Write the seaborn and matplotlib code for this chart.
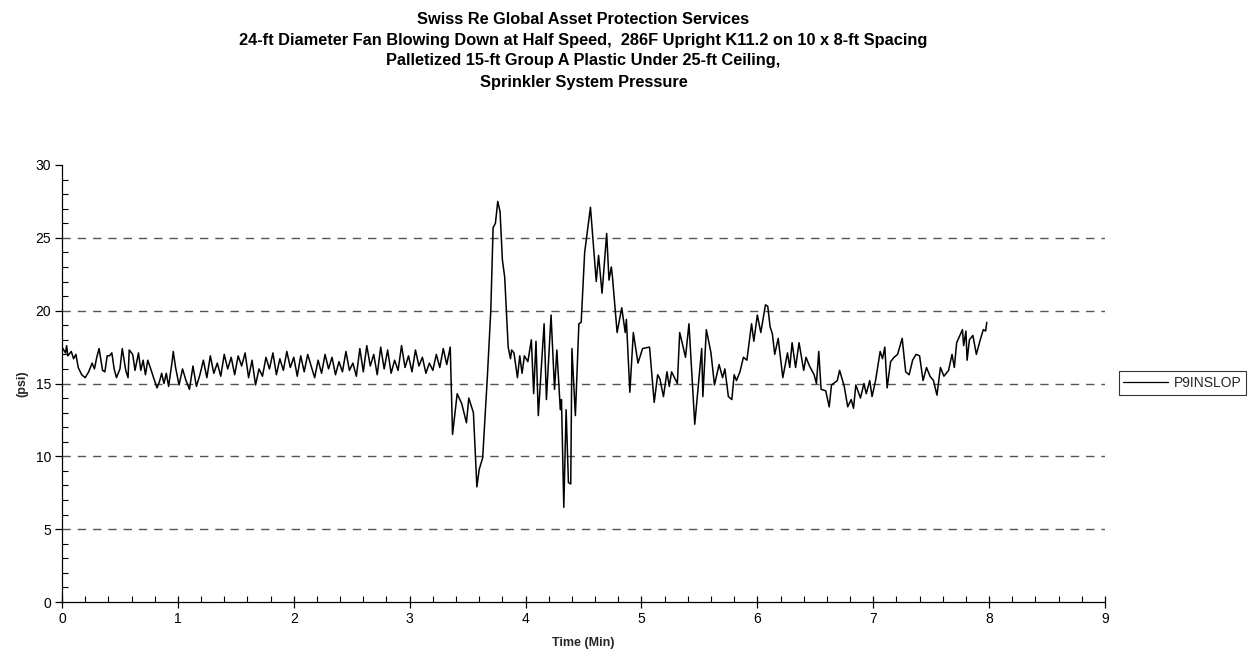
import numpy as np
import pandas as pd
import matplotlib
matplotlib.use("Agg")
import matplotlib.pyplot as plt
import seaborn as sns
from matplotlib.ticker import MultipleLocator

# Sprinkler system pressure record (time in minutes, pressure in psi)
time_min = [
    0.00, 0.03, 0.04, 0.05, 0.08, 0.10, 0.12, 0.14, 0.17, 0.20, 0.23, 0.26, 0.28, 0.30, 0.32,
    0.35, 0.37, 0.39, 0.41, 0.43, 0.45, 0.47, 0.50, 0.52, 0.55, 0.57, 0.58, 0.61, 0.63, 0.66,
    0.68, 0.70, 0.72, 0.74, 0.77, 0.79, 0.82, 0.84, 0.86, 0.88, 0.90, 0.92, 0.95, 0.96, 0.98,
    1.01, 1.04, 1.07, 1.10, 1.13, 1.16, 1.19, 1.22, 1.25, 1.28, 1.31, 1.34, 1.37, 1.40, 1.43,
    1.46, 1.49, 1.52, 1.55, 1.58, 1.61, 1.64, 1.67, 1.70, 1.73, 1.76, 1.79, 1.82, 1.85, 1.88,
    1.91, 1.94, 1.97, 2.00, 2.03, 2.06, 2.09, 2.12, 2.15, 2.18, 2.21, 2.24, 2.27, 2.30, 2.33,
    2.36, 2.39, 2.42, 2.45, 2.48, 2.51, 2.54, 2.57, 2.60, 2.63, 2.66, 2.69, 2.72, 2.75, 2.78,
    2.81, 2.84, 2.87, 2.90, 2.93, 2.96, 2.99, 3.02, 3.05, 3.08, 3.11, 3.14, 3.17, 3.20, 3.23,
    3.26, 3.29, 3.32, 3.35,
    3.37, 3.41, 3.45, 3.49, 3.51, 3.55, 3.58, 3.60, 3.63, 3.67, 3.70, 3.72, 3.74, 3.76, 3.78,
    3.80, 3.82, 3.85, 3.87, 3.88, 3.90, 3.93, 3.95, 3.97, 3.99, 4.02, 4.05, 4.07, 4.09, 4.11,
    4.16, 4.18, 4.22, 4.25, 4.27, 4.30, 4.31, 4.33, 4.35, 4.37, 4.39, 4.40, 4.43, 4.46, 4.48,
    4.51, 4.56, 4.61, 4.63, 4.66, 4.70, 4.72, 4.74, 4.75, 4.79, 4.83, 4.86, 4.87, 4.90, 4.93,
    4.97, 5.01, 5.07, 5.11, 5.14, 5.16, 5.19, 5.22, 5.24, 5.26, 5.31, 5.33, 5.36, 5.38, 5.41,
    5.46, 5.52, 5.53, 5.56, 5.60, 5.63, 5.67, 5.70, 5.72, 5.75, 5.78, 5.80, 5.82, 5.85, 5.88,
    5.91, 5.95, 5.97, 6.00, 6.03, 6.07, 6.09, 6.11, 6.13, 6.15, 6.18, 6.22, 6.26, 6.28, 6.30,
    6.33, 6.36, 6.40, 6.42, 6.45, 6.49, 6.51, 6.53, 6.55, 6.59, 6.62, 6.64, 6.69, 6.71, 6.75,
    6.78, 6.81, 6.83, 6.85, 6.89, 6.92, 6.94, 6.97, 6.99, 7.02, 7.06, 7.08, 7.10, 7.12, 7.15,
    7.18, 7.21, 7.25, 7.28, 7.31, 7.34, 7.37, 7.40, 7.43, 7.46, 7.49, 7.52, 7.55, 7.58, 7.61,
    7.65, 7.68, 7.70, 7.72, 7.77, 7.78, 7.80, 7.81, 7.83, 7.86, 7.89, 7.92, 7.95, 7.97, 7.98,
]
pressure_psi = [
    17.5, 17.1, 17.6, 16.9, 17.2, 16.7, 17.0, 16.1, 15.6, 15.4, 15.8, 16.4, 16.0, 16.8, 17.4,
    15.9, 15.8, 16.9, 16.9, 17.1, 16.0, 15.4, 16.0, 17.4, 15.9, 15.4, 17.3, 17.0, 15.9, 17.1,
    15.9, 16.6, 15.6, 16.6, 15.9, 15.4, 14.7, 15.1, 15.7, 15.0, 15.7, 14.8, 16.5, 17.2, 16.1,
    14.9, 16.0, 15.2, 14.6, 16.2, 14.8, 15.6, 16.6, 15.4, 16.9, 15.7, 16.4, 15.5, 17.0, 16.0,
    16.8, 15.6, 16.9, 16.2, 17.1, 15.4, 16.6, 14.9, 16.0, 15.5, 16.8, 16.0, 17.1, 15.6, 16.7,
    15.9, 17.2, 16.1, 16.8, 15.5, 16.9, 15.8, 17.0, 16.2, 15.4, 16.6, 15.7, 17.0, 16.0, 16.8,
    15.6, 16.5, 15.8, 17.2, 15.9, 16.4, 15.5, 17.4, 15.8, 17.6, 16.2, 17.0, 15.6, 17.5, 16.0,
    17.3, 15.7, 16.6, 15.9, 17.6, 16.1, 16.9, 15.8, 17.3, 16.2, 16.8, 15.7, 16.4, 15.9, 17.0,
    16.1, 17.4, 16.3, 17.5,
    11.5, 14.3, 13.6, 12.3, 14.0, 13.0, 7.9, 9.1, 9.9, 15.4, 20.0, 25.7, 26.0, 27.5, 26.8,
    23.5, 22.3, 17.5, 16.7, 17.3, 17.1, 15.4, 16.9, 15.7, 16.9, 16.5, 18.0, 14.3, 17.9, 12.8,
    19.1, 13.9, 19.7, 14.6, 17.3, 13.2, 13.9, 6.5, 13.2, 8.2, 8.1, 17.4, 12.8, 19.1, 19.2,
    24.0, 27.1, 22.0, 23.8, 21.2, 25.3, 22.1, 23.0, 22.3, 18.5, 20.2, 18.5, 19.4, 14.4, 18.5,
    16.4, 17.4, 17.5, 13.7, 15.6, 15.3, 14.1, 15.8, 14.8, 15.8, 15.0, 18.5, 17.5, 16.8, 19.1,
    12.2, 17.4, 14.1, 18.7, 17.1, 14.9, 16.3, 15.4, 16.0, 14.1, 13.9, 15.6, 15.2, 15.8, 16.8,
    16.6, 19.1, 17.9, 19.7, 18.5, 20.4, 20.3, 18.9, 18.4, 17.0, 18.1, 15.4, 17.1, 16.1, 17.8,
    16.1, 17.8, 15.9, 16.8, 16.2, 15.6, 15.0, 17.2, 14.6, 14.5, 13.4, 14.9, 15.2, 15.9, 14.8,
    13.4, 13.9, 13.3, 14.9, 14.0, 15.0, 14.3, 15.2, 14.1, 15.2, 17.2, 16.7, 17.5, 14.7, 16.5,
    16.8, 17.0, 18.1, 15.8, 15.6, 16.6, 17.0, 16.9, 15.2, 16.1, 15.5, 15.2, 14.2, 16.1, 15.5,
    15.9, 17.0, 16.1, 17.8, 18.7, 17.6, 18.6, 16.6, 18.0, 18.3, 17.0, 17.9, 18.7, 18.6, 19.2,
]
series_name = "P9INSLOP"

title_lines = [
    "Swiss Re Global Asset Protection Services",
    "24-ft Diameter Fan Blowing Down at Half Speed,  286F Upright K11.2 on 10 x 8-ft Spacing",
    "Palletized 15-ft Group A Plastic Under 25-ft Ceiling,",
    "Sprinkler System Pressure",
]
x_label = "Time (Min)"
y_label = "(psi)"

df = pd.DataFrame({"time": time_min, "psi": pressure_psi, "series": series_name})

sns.set_theme(style="white")
plt.rcParams["font.family"] = ["Liberation Sans", "DejaVu Sans"]

fig = plt.figure(figsize=(12.49, 6.57), dpi=100)
ax = fig.add_axes([62 / 1249, 1 - 602 / 657, (1105 - 62) / 1249, (602 - 165) / 657])

sns.lineplot(data=df, x="time", y="psi", hue="series", palette=["black"],
             linewidth=1.1, ax=ax, sort=False, estimator=None)

ax.set_xlim(0, 9)
ax.set_ylim(0, 30)
ax.xaxis.set_major_locator(MultipleLocator(1))
ax.xaxis.set_minor_locator(MultipleLocator(0.2))
ax.yaxis.set_major_locator(MultipleLocator(5))
ax.yaxis.set_minor_locator(MultipleLocator(1))

# dashed horizontal gridlines at the major y ticks
for y in [5, 10, 15, 20, 25]:
    ax.axhline(y, color="#555555", linewidth=1.0, linestyle=(0, (6, 5)), zorder=0)

for side in ["top", "right"]:
    ax.spines[side].set_visible(False)
for side in ["left", "bottom"]:
    ax.spines[side].set_color("black")
    ax.spines[side].set_linewidth(0.9)

ax.tick_params(axis="x", which="major", direction="inout", length=8, width=0.9,
               colors="black", labelsize=10, pad=3, bottom=True)
ax.tick_params(axis="x", which="minor", direction="in", length=4, width=0.8,
               colors="black", bottom=True)
ax.tick_params(axis="y", which="major", direction="out", length=5, width=0.9,
               colors="black", labelsize=10, pad=3, left=True)
ax.tick_params(axis="y", which="minor", direction="in", length=4, width=0.8,
               colors="black", left=True)

ax.set_xlabel(x_label, fontsize=9, fontweight="bold", labelpad=8)
ax.set_ylabel(y_label, fontsize=9, fontweight="bold", labelpad=5)

leg = ax.legend(loc="center left", bbox_to_anchor=(1.013, 0.501), frameon=True,
                fancybox=False, fontsize=10, handlelength=3.2, handletextpad=0.4,
                borderpad=0.35, borderaxespad=0)
leg.get_frame().set_edgecolor("black")
leg.get_frame().set_linewidth(0.8)
for line in leg.get_lines():
    line.set_linewidth(0.9)

cx = (62 + 1105) / 2 / 1249
for i, line in enumerate(title_lines):
    fig.text(cx, 1 - (19 + 21 * i) / 657, line, ha="center", va="center",
             fontsize=11.8, fontweight="bold", color="black")

fig.savefig("out.png", dpi=100, facecolor="white")
